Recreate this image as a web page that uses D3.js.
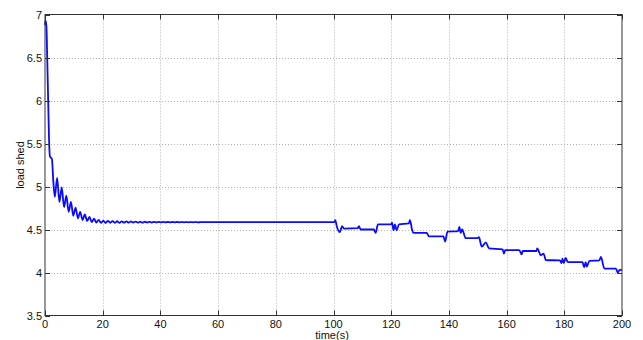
<!DOCTYPE html>
<html>
<head>
<meta charset="utf-8">
<script src="https://cdn.jsdelivr.net/npm/d3@7"></script>
<style>
  html, body { margin: 0; padding: 0; background: #fff; }
  svg { display: block; font-family: Arial, "Liberation Sans", Helvetica, sans-serif; }
</style>
</head>
<body>
<svg id="chart" width="643" height="340"></svg>
<script>
// load shed vs time
const timeS = [
  0, 0.2, 0.5, 0.8, 1.1, 1.4, 1.7, 2.4, 2.9, 3.4,
  4.2, 5.0, 5.8, 6.6, 7.4, 8.2, 9.0, 9.8, 10.6, 11.4,
  12.2, 13.0, 13.8, 14.6, 15.4, 16.2, 17.0, 17.8, 18.6, 19.4,
  20.2, 21.0, 21.8, 22.6, 23.4, 24.2, 25.0, 25.8, 26.6, 27.4,
  28.2, 29.0, 29.8, 30.6, 31.4, 32.2, 33.0, 33.8, 34.6, 35.4,
  36.2, 37.0, 37.8, 38.6, 39.4, 40.2, 41.0, 41.8, 42.6, 43.4,
  44.2, 45.0, 45.8, 46.6, 47.4, 48.2, 49.0, 49.8, 50.6, 51.4,
  52.2, 53.0, 54.0, 100.3, 100.6, 101.2, 102.2, 103.0, 103.6, 108.4,
  108.8, 109.4, 114.0, 114.6, 115.4, 120.0, 120.3, 120.8, 121.3, 121.9,
  122.7, 126.1, 126.5, 127.2, 127.7, 132.3, 133.1, 133.5, 138.1, 138.7,
  139.5, 143.2, 143.6, 144.1, 144.6, 145.8, 149.9, 150.4, 151.4, 152.8,
  153.9, 158.6, 159.1, 159.5, 164.4, 165.2, 165.6, 170.4, 170.6, 171.9,
  172.8, 173.6, 178.5, 179.0, 179.4, 179.8, 180.5, 181.2, 186.3, 186.9,
  187.4, 187.8, 188.7, 192.1, 192.7, 193.9, 197.9, 198.5, 199.2, 200
];
const loadShed = [
  6.88, 6.93, 6.85, 6.45, 6.0, 5.55, 5.35, 5.32, 5.05, 4.88,
  5.10, 4.82, 4.99, 4.76, 4.895, 4.705, 4.82, 4.66, 4.755, 4.63,
  4.705, 4.61, 4.675, 4.60, 4.647, 4.586, 4.626, 4.581, 4.613, 4.578,
  4.604, 4.577, 4.601, 4.578, 4.598, 4.578, 4.596, 4.578, 4.595, 4.579,
  4.594, 4.579, 4.593, 4.580, 4.592, 4.580, 4.591, 4.580, 4.590, 4.581,
  4.589, 4.581, 4.589, 4.582, 4.588, 4.582, 4.588, 4.582, 4.587, 4.583,
  4.587, 4.583, 4.587, 4.583, 4.586, 4.584, 4.586, 4.584, 4.586, 4.584,
  4.586, 4.584, 4.585, 4.585, 4.61, 4.53, 4.47, 4.54, 4.51, 4.515,
  4.54, 4.50, 4.50, 4.46, 4.56, 4.56, 4.58, 4.49, 4.56, 4.49,
  4.56, 4.57, 4.61, 4.50, 4.46, 4.46, 4.42, 4.42, 4.42, 4.36,
  4.475, 4.48, 4.53, 4.46, 4.50, 4.40, 4.40, 4.41, 4.30, 4.35,
  4.28, 4.27, 4.22, 4.26, 4.26, 4.21, 4.25, 4.25, 4.28, 4.20,
  4.22, 4.145, 4.14, 4.11, 4.16, 4.11, 4.17, 4.12, 4.12, 4.06,
  4.12, 4.07, 4.135, 4.14, 4.18, 4.045, 4.045, 4.00, 4.03, 4.03
];
const xTicks = [0, 20, 40, 60, 80, 100, 120, 140, 160, 180, 200];
const yTicks = [3.5, 4, 4.5, 5, 5.5, 6, 6.5, 7];

const svg = d3.select("#chart");
const margin = { top: 14.5, right: 21, bottom: 24.5, left: 45 };
const width = 643, height = 340;
const x = d3.scaleLinear().domain([0, 200]).range([margin.left, width - margin.right]);
const y = d3.scaleLinear().domain([3.5, 7]).range([height - margin.bottom, margin.top]);

// grid
const grid = svg.append("g").attr("stroke", "#b0b0b0").attr("stroke-width", 1).attr("stroke-dasharray", "1,2");
grid.selectAll(".gx").data(xTicks.slice(1, -1)).join("line")
  .attr("x1", d => Math.round(x(d)) + 0.5).attr("x2", d => Math.round(x(d)) + 0.5)
  .attr("y1", y(7)).attr("y2", y(3.5));
grid.selectAll(".gy").data(yTicks.slice(1, -1)).join("line")
  .attr("y1", d => Math.round(y(d)) + 0.5).attr("y2", d => Math.round(y(d)) + 0.5)
  .attr("x1", x(0)).attr("x2", x(200));

// line
const line = d3.line().x((d, i) => x(timeS[i])).y(d => y(d)).curve(d3.curveMonotoneX);
svg.append("path").datum(loadShed)
  .attr("fill", "none").attr("stroke", "#0a0aff").attr("stroke-width", 1.8)
  .attr("stroke-linejoin", "round").attr("d", line);

// box + inward ticks (matlab style)
const ax = svg.append("g").attr("stroke", "#333").attr("stroke-width", 1).attr("fill", "none");
ax.append("rect").attr("x", x(0)).attr("y", y(7)).attr("width", x(200) - x(0)).attr("height", y(3.5) - y(7));
const tk = 5;
xTicks.forEach(d => {
  const px = Math.round(x(d)) + 0.5;
  ax.append("line").attr("x1", px).attr("x2", px).attr("y1", y(3.5)).attr("y2", y(3.5) - tk);
  ax.append("line").attr("x1", px).attr("x2", px).attr("y1", y(7)).attr("y2", y(7) + tk);
});
yTicks.forEach(d => {
  const py = Math.round(y(d)) + 0.5;
  ax.append("line").attr("y1", py).attr("y2", py).attr("x1", x(0)).attr("x2", x(0) + tk);
  ax.append("line").attr("y1", py).attr("y2", py).attr("x1", x(200)).attr("x2", x(200) - tk);
});

// tick labels
svg.append("g").selectAll("text").data(xTicks).join("text")
  .attr("x", d => x(d)).attr("y", y(3.5) + 12)
  .attr("text-anchor", "middle").style("font-size", "11px").attr("fill", "#111")
  .text(d => d);
svg.append("g").selectAll("text").data(yTicks).join("text")
  .attr("x", x(0) - 3).attr("y", d => y(d) + 4)
  .attr("text-anchor", "end").style("font-size", "11px").attr("fill", "#111")
  .text(d => d);

// axis titles
svg.append("text").attr("x", 332).attr("y", 338.5)
  .attr("text-anchor", "middle").style("font-size", "11px").attr("fill", "#111").text("time(s)");
svg.append("text").attr("transform", "translate(24,165) rotate(-90)")
  .attr("text-anchor", "middle").style("font-size", "11px").attr("fill", "#111").text("load shed");
</script>
</body>
</html>
